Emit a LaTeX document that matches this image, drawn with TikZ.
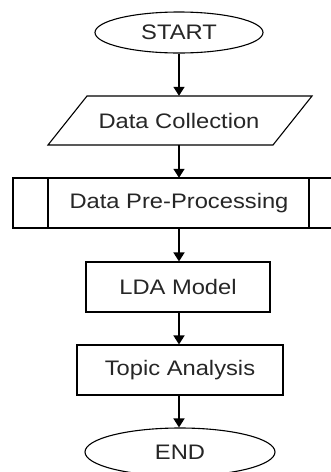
\documentclass[tikz,border=0pt]{standalone}
\usepackage{fontspec}
\setmainfont[FakeStretch=1.13]{Liberation Sans}
\usetikzlibrary{shapes.geometric,arrows.meta}
\tikzset{
  txt/.style={text=black!85, font=\fontsize{21}{24}\selectfont, inner sep=0pt},
  box/.style={txt, draw=black, line width=1.1pt, minimum height=50pt},
  term/.style={box, ellipse},
  label/.style={txt, minimum height=49pt, minimum width=190pt},
  edge/.style={line width=1.1pt},
  flow/.style={draw=black, line width=1.5pt, -{Triangle[width=11pt,length=9pt]}}
}
\begin{document}
\begin{tikzpicture}[x=1pt,y=-1pt]
\useasboundingbox (0,0) rectangle (331,472);
\clip (0,0) rectangle (331,472);
\fill[white] (0,0) rectangle (331,472);

% terminals
\node[term, minimum width=168pt, minimum height=41pt] (start) at (179,32.5) {START};
\node[term, minimum width=190pt, minimum height=48pt] (end) at (180,452) {END};

% input / output parallelogram
\draw[edge] (87,96) -- (312,96) -- (273,145) -- (48,145) -- cycle;
\node[label] (collect) at (179,120.5) {Data Collection};

% predefined process: open on the right, with two side bands
\node[label, minimum width=332pt, minimum height=50pt] (prep) at (179,203) {Data Pre-Processing};
\draw[edge] (340,178) -- (13,178) -- (13,228) -- (340,228);
\draw[edge] (48,178) -- (48,228);
\draw[edge] (309,178) -- (309,228);

% processes
\node[box, minimum width=184pt] (lda) at (178,287) {LDA Model};
\node[box, minimum width=206pt] (topic) at (180,370) {Topic Analysis};

% connectors
\draw[flow] (start.south -| 179,0) -- (collect.north -| 179,0);
\draw[flow] (collect.south -| 179,0) -- (prep.north -| 179,0);
\draw[flow] (prep.south -| 179,0) -- (lda.north -| 179,0);
\draw[flow] (lda.south -| 179,0) -- (topic.north -| 179,0);
\draw[flow] (topic.south -| 179,0) -- (end.north -| 179,0);
\end{tikzpicture}
\end{document}
